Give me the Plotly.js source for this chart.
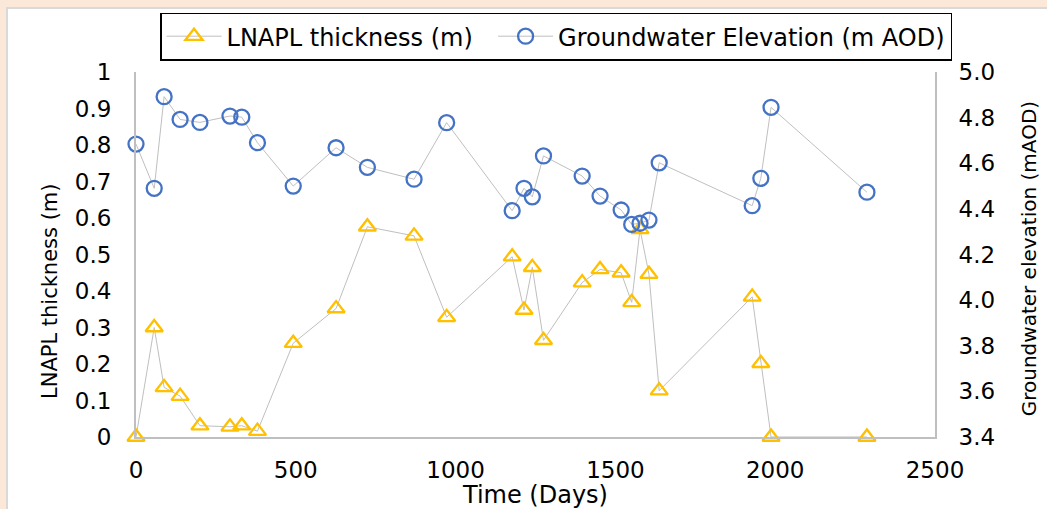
<!DOCTYPE html>
<html>
<head>
<meta charset="utf-8">
<script src="https://cdn.plot.ly/plotly-3.0.1.min.js"></script>
<style>
  html, body { margin: 0; padding: 0; background: #fce8d9; width: 1047px; height: 509px; overflow: hidden; }
  #wrap { position: absolute; left: 6px; top: 7px; width: 1039px; height: 500px; background: #ffffff;
          border-left: 2px solid #d9d9d9; border-top: 2px solid #d9d9d9; }
  #chart { width: 1039px; height: 500px; }
</style>
</head>
<body>
<div id="wrap"><div id="chart"></div></div>
<script>
// Time (days) of each monitoring visit
const days = [0, 57, 88, 138, 200, 294, 331, 380, 492, 626, 724, 870, 972, 1177, 1214, 1240, 1275,
              1396, 1452, 1518, 1551, 1577, 1605, 1637, 1928, 1955, 1987, 2287];
// LNAPL thickness (m)
const lnapl = [0.00, 0.30, 0.136, 0.112, 0.031, 0.028, 0.031, 0.016, 0.257, 0.352, 0.576, 0.551, 0.328,
               0.494, 0.348, 0.465, 0.265, 0.423, 0.459, 0.450, 0.369, 0.569, 0.446, 0.127, 0.384, 0.202, 0.00, 0.00];
// Groundwater elevation (m AOD)
const gwElev = [4.684, 4.490, 4.892, 4.792, 4.779, 4.807, 4.802, 4.690, 4.500, 4.668, 4.582, 4.530, 4.778,
                4.392, 4.490, 4.453, 4.632, 4.544, 4.456, 4.395, 4.332, 4.337, 4.351, 4.602, 4.414, 4.534, 4.845, 4.473];

const seriesNames = ['LNAPL thickness (m)', 'Groundwater Elevation (m AOD)'];

const FONT = 'DejaVu Sans, Verdana, sans-serif';
const PAD = '\u00a0\u00a0';

const traces = [
  {
    x: days, y: lnapl, name: seriesNames[0] + PAD, yaxis: 'y', type: 'scatter', mode: 'lines+markers',
    cliponaxis: false,
    line: { color: '#bfbfbf', width: 1 },
    marker: { symbol: 'triangle-up-open', size: 15, color: '#ffc000', line: { color: '#ffc000', width: 2.3 } }
  },
  {
    x: days, y: gwElev, name: seriesNames[1], yaxis: 'y2', type: 'scatter', mode: 'lines+markers',
    cliponaxis: false,
    line: { color: '#bfbfbf', width: 1 },
    marker: { symbol: 'circle-open', size: 15, color: '#4472c4', line: { color: '#4472c4', width: 2.3 } }
  }
];

const layout = {
  width: 1039, height: 500,
  margin: { l: 128, r: 112, t: 63, b: 72, pad: 0, autoexpand: false },
  paper_bgcolor: '#ffffff', plot_bgcolor: '#ffffff',
  font: { family: FONT, size: 23, color: '#000000' },
  showlegend: true,
  legend: {
    orientation: 'h', xref: 'paper', yref: 'paper',
    x: 1.0213, xanchor: 'right', y: 1.097, yanchor: 'middle',
    bordercolor: '#000000', borderwidth: 1.5, bgcolor: '#ffffff',
    font: { family: FONT, size: 24, color: '#000000' }, itemwidth: 55
  },
  xaxis: {
    range: [0, 2500], dtick: 500, tick0: 0, showgrid: false, zeroline: false,
    showline: true, linecolor: '#bfbfbf', linewidth: 2, ticks: '', ticklabelstandoff: 11,
    tickfont: { family: FONT, size: 23 },
    title: { text: 'Time (Days)', font: { family: FONT, size: 24 }, standoff: 4 }
  },
  yaxis: {
    range: [0, 1], dtick: 0.1, tick0: 0, showgrid: false, zeroline: false,
    showline: true, linecolor: '#bfbfbf', linewidth: 2, ticks: '', ticklabelstandoff: 18,
    tickfont: { family: FONT, size: 23 }
  },
  yaxis2: {
    overlaying: 'y', side: 'right', range: [3.4, 5.0], dtick: 0.2, tick0: 3.4, tickformat: '.1f',
    showgrid: false, zeroline: false, showline: true, linecolor: '#bfbfbf', linewidth: 2,
    ticks: '', ticklabelstandoff: 17, tickfont: { family: FONT, size: 23 }
  },
  annotations: [
    { text: 'LNAPL thickness (m)', xref: 'paper', yref: 'paper', x: -0.1076, y: 0.4,
      xanchor: 'center', yanchor: 'middle', textangle: -90, showarrow: false,
      font: { family: FONT, size: 21, color: '#000000' } },
    { text: 'Groundwater elevation (mAOD)', xref: 'paper', yref: 'paper', x: 1.1177, y: 0.487,
      xanchor: 'center', yanchor: 'middle', textangle: -90, showarrow: false,
      font: { family: FONT, size: 20, color: '#000000' } }
  ]
};

Plotly.newPlot('chart', traces, layout, { displayModeBar: false, staticPlot: true });
</script>
</body>
</html>
